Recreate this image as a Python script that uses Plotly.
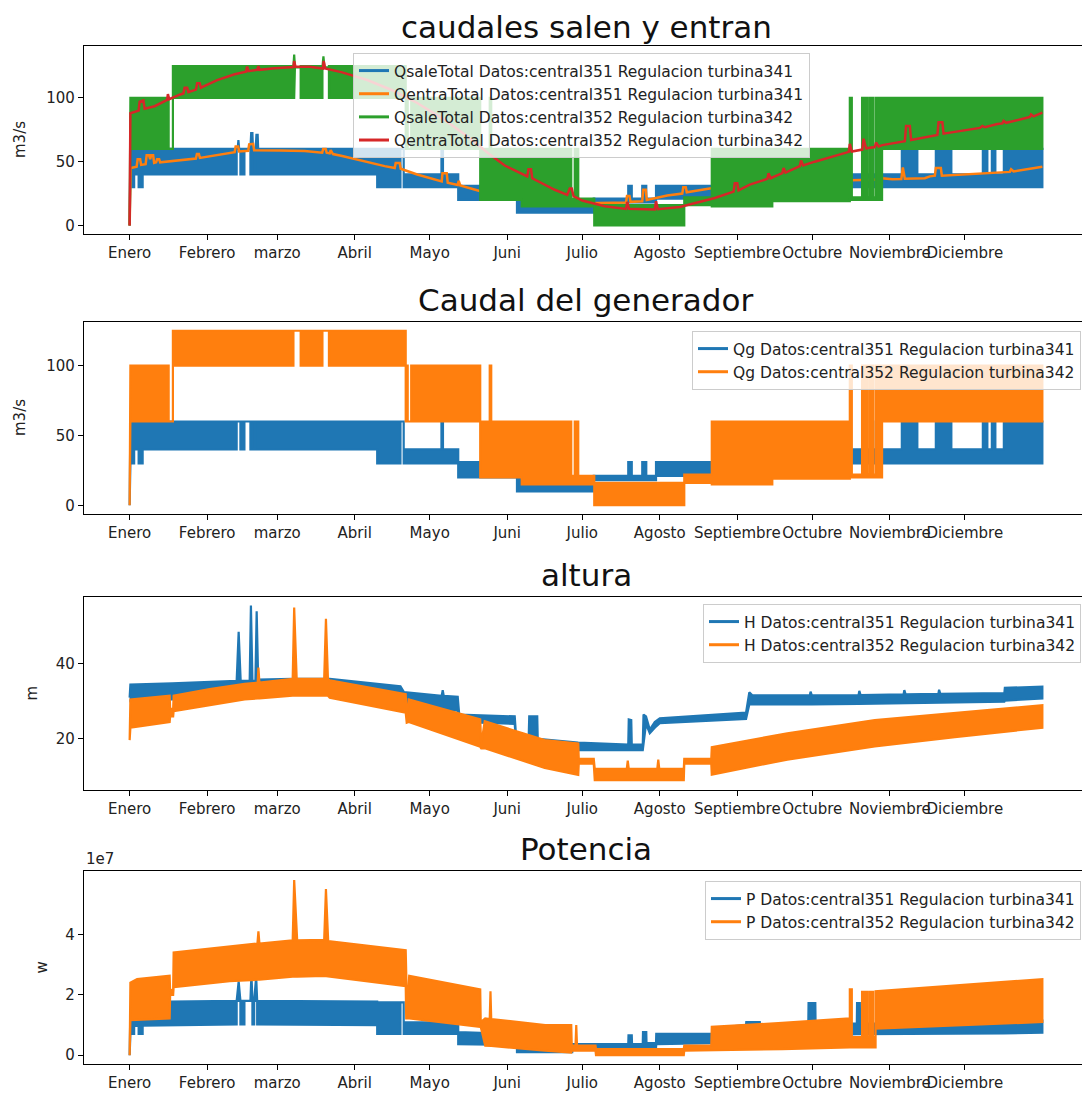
import plotly.graph_objects as go
from plotly.subplots import make_subplots

BLUE = "#1f77b4"
ORANGE = "#ff7f0e"
GREEN = "#2ca02c"
RED = "#d62728"
FONT = "DejaVu Sans"

# -----------------------------
# Axis ticks (day of year)
# -----------------------------
months = ["Enero", "Febrero", "marzo", "Abril", "Mayo", "Juni", "Julio",
          "Agosto", "Septiembre", "Octubre", "Noviembre", "Diciembre"]
month_days = [0, 31, 59, 90, 120, 151, 181, 212, 243, 273, 304, 334]

# -----------------------------
# Series
# hourly series are drawn as their band: (day, low, high)
# smooth series as (day, value)
# -----------------------------
qsale351 = [
    (0, 0, 0), (0.3, 30, 60), (1.8, 30, 60), (1.8, 40, 60), (3.6, 40, 60), (3.6, 30, 60),
    (5.2, 30, 60), (5.2, 40, 60),
    (42.8, 40, 60), (42.8, 60, 60), (43.2, 60, 60), (43.5, 60, 67), (43.8, 60, 60),
    (44.3, 60, 60), (44.3, 40, 60),
    (45.9, 40, 60), (45.9, 60, 60), (48.3, 60, 60), (48.3, 40, 60),
    (48.6, 40, 72.5), (49.1, 40, 72.5), (49.3, 40, 60),
    (49.8, 40, 60), (49.8, 60, 60), (50.4, 60, 60), (50.4, 40, 60),
    (50.7, 40, 71), (51.2, 40, 71), (51.4, 40, 60),
    (99.0, 40, 60), (99.0, 30, 60),
    (108.3, 30, 60), (108.3, 60, 60), (109.6, 60, 60), (109.6, 30, 40),
    (124.7, 30, 40), (124.7, 30, 61), (125.3, 30, 61), (125.3, 30, 40),
    (131.4, 30, 40), (131.4, 20, 31),
    (154.9, 20, 31), (154.9, 10, 19), (163.0, 10, 19), (163.0, 10, 14),
    (185.6, 10, 14), (185.6, 18, 21),
    (199.4, 18, 21), (199.4, 18, 31), (200.8, 18, 31), (200.8, 18, 21),
    (205.0, 18, 21), (205.0, 18, 31), (206.6, 18, 31), (206.6, 18, 21),
    (210.5, 18, 21), (210.5, 21, 31),
    (233.0, 21, 31), (233.0, 25, 35), (288.0, 28, 38), (288.0, 30, 40),
    (298.4, 30, 40), (298.4, 30, 60), (300.8, 30, 60), (300.8, 30, 40),
    (308.8, 30, 40), (308.8, 30, 60), (315.0, 30, 60), (315.0, 30, 40),
    (322.4, 30, 40), (322.4, 30, 60), (328.6, 30, 60), (328.6, 30, 40),
    (341.2, 30, 40), (341.2, 30, 60), (343.0, 30, 60), (343.0, 30, 40),
    (344.8, 30, 40), (344.8, 30, 60), (346.2, 30, 60), (346.2, 30, 40),
    (349.6, 30, 40), (349.6, 30, 60), (365.0, 30, 60),
]

qentra351 = [
    (0, 0), (0.4, 45), (2.8, 46), (3.2, 52), (4.2, 52), (4.6, 47.5), (6.4, 48), (6.8, 55),
    (7.8, 55), (8.2, 52), (8.6, 55), (9.4, 55), (9.8, 49), (10.6, 49.5), (11.0, 52),
    (11.8, 52), (12.2, 49.5), (20, 51), (26.5, 52.5), (26.9, 56), (27.7, 56), (28.1, 53),
    (35, 55.5), (42, 57.5), (42.4, 62), (43.4, 62), (43.8, 58), (47.4, 58.5), (47.8, 63.5),
    (49.4, 64), (49.8, 59), (55, 59), (60, 58.8), (70, 58.3), (77, 57), (77.4, 60),
    (78.4, 60), (78.8, 57), (80, 56.5), (80.4, 59), (81.3, 56), (85, 54.5), (90, 52),
    (95, 50), (99, 48), (102, 46.5), (106, 45), (106.4, 49), (108, 49), (108.4, 44.5),
    (115, 40), (122, 36), (124.8, 34.5), (125.1, 41), (126.8, 41), (127.2, 33.5),
    (131.2, 31.8), (131.6, 35), (132.2, 31.4), (140, 27), (150, 23), (160, 20), (170, 18),
    (182, 17.5), (198.5, 18), (198.9, 23), (199.9, 23), (200.3, 18.5), (205, 19),
    (205.4, 28), (206.4, 28), (206.8, 20), (211, 21.5), (215, 23.5), (221, 25),
    (221.4, 30), (222.4, 30), (222.8, 26), (232, 29), (260, 33), (288, 35.5), (298, 35.8),
    (299, 38), (300, 44), (301, 37), (305, 36.2), (308.6, 36.4), (309.2, 45.5),
    (310, 36.6), (318, 37), (320, 38.5), (322, 39), (322.4, 45), (324.4, 45), (324.8, 39),
    (335, 40), (345, 41), (352, 42), (352.5, 44), (353.5, 42.3), (365, 46),
]

qsale352 = [
    (0, 0, 0), (0.3, 60, 100), (15.6, 60, 100), (15.6, 60, 60), (17.3, 60, 60),
    (17.3, 100, 125),
    (65.5, 100, 125), (65.8, 100, 134), (66.1, 124, 124), (68.4, 124, 124), (68.4, 100, 125),
    (77.1, 100, 125), (77.1, 124, 124), (77.5, 124, 132.5), (77.9, 124, 124),
    (79.7, 124, 124), (79.7, 100, 125),
    (110.4, 100, 125), (110.4, 60, 100), (111.2, 60, 100), (111.2, 60, 60),
    (112.6, 60, 60), (112.6, 60, 100),
    (140.2, 60, 100), (140.2, 20, 60), (144.0, 20, 60), (144.0, 20, 100),
    (144.6, 20, 100), (144.6, 20, 60),
    (156.8, 20, 60), (156.8, 15, 60), (176.6, 15, 60), (176.6, 15, 21),
    (178.0, 15, 21), (178.0, 15, 60), (179.4, 15, 60), (179.4, 15, 21),
    (185.8, 15, 21), (185.8, 0, 16), (221.8, 0, 16), (221.8, 16, 22),
    (232.8, 16, 22), (232.8, 15, 60), (257.0, 15, 60), (257.0, 19, 60),
    (288.0, 19, 60), (288.0, 20, 100), (288.8, 20, 100), (288.8, 20, 22),
    (292.9, 20, 22), (292.9, 20, 100), (294.9, 20, 100), (294.9, 20, 22),
    (295.8, 20, 22), (295.8, 20, 100), (297.3, 20, 100), (297.3, 20, 22),
    (298.3, 20, 22), (298.3, 20, 100), (300.9, 20, 100), (300.9, 60, 100),
    (365.0, 60, 100),
]

qentra352 = [
    (0, 0), (0.3, 88), (3.6, 90), (4.0, 97), (5.5, 98), (6.0, 91.5), (10, 93.5), (15, 98.5),
    (15.3, 103), (15.8, 99), (20, 102.5), (21.5, 103.5), (22, 108), (23, 108),
    (23.5, 104.5), (26.5, 106.5), (27, 111.5), (28, 111.5), (28.5, 108), (35, 114),
    (42, 118.5), (46.5, 120.5), (47, 124.5), (47.5, 121), (51, 122), (51.5, 125),
    (52, 122), (58, 123.3), (65.5, 124.2), (65.8, 129), (66.3, 124.4), (72, 124.5),
    (77.3, 123), (77.6, 129), (78.2, 123), (85, 120), (95, 114), (105, 106), (115, 96),
    (125, 84), (135, 70), (143.8, 56), (150, 47), (155, 42), (159, 38.5), (159.5, 44),
    (160.5, 44), (161, 37), (170, 28), (175, 24), (176, 29), (176.8, 29), (177.5, 23),
    (181, 19.5), (190, 15), (198.5, 13), (199, 18.5), (199.7, 13), (205, 12.5),
    (210, 12.6), (210.5, 19), (211.2, 12.8), (220, 14.5), (234, 21.5), (241.5, 26.5),
    (242, 33), (243, 33), (243.5, 27.5), (248, 32), (255, 36.5), (255.5, 41),
    (256.3, 37), (261, 41), (261.5, 45), (262.3, 41.5), (268, 46.5), (268.5, 51),
    (269.3, 47), (274, 50), (281, 54), (287.6, 57.7), (288, 64), (288.8, 58), (293, 59.5),
    (293.5, 68), (294.5, 60.5), (298, 61.5), (298.5, 65), (299.5, 62), (301, 63),
    (307.6, 65.4), (310, 66), (310.5, 78), (312, 78), (312.5, 67), (321, 70.5), (323, 71),
    (323.5, 81), (325, 81), (325.5, 72), (334, 74.5), (340, 76.5), (341, 78), (342, 77),
    (347, 79.5), (349, 80), (349.5, 82), (350.5, 80.5), (358, 84), (360, 85), (360.5, 87),
    (361.5, 85.5), (365, 88.5),
]

qg351 = [
    (0, 0, 0), (0.3, 30, 60), (1.8, 30, 60), (1.8, 40, 60), (3.6, 40, 60), (3.6, 30, 60),
    (5.2, 30, 60), (5.2, 40, 60),
    (42.8, 40, 60), (42.8, 60, 60), (44.3, 60, 60), (44.3, 40, 60),
    (45.9, 40, 60), (45.9, 60, 60), (48.3, 60, 60), (48.3, 40, 60),
    (49.8, 40, 60), (49.8, 60, 60), (50.4, 60, 60), (50.4, 40, 60),
    (99.0, 40, 60), (99.0, 30, 60),
    (108.3, 30, 60), (108.3, 60, 60), (109.6, 60, 60), (109.6, 30, 40),
    (124.7, 30, 40), (124.7, 30, 60), (125.3, 30, 60), (125.3, 30, 40),
    (131.4, 30, 40), (131.4, 20, 31),
    (154.9, 20, 31), (154.9, 10, 19), (163.0, 10, 19), (163.0, 10, 14),
    (185.6, 10, 14), (185.6, 18, 21),
    (199.4, 18, 21), (199.4, 18, 31), (200.8, 18, 31), (200.8, 18, 21),
    (205.0, 18, 21), (205.0, 18, 31), (206.6, 18, 31), (206.6, 18, 21),
    (210.5, 18, 21), (210.5, 21, 31),
    (233.0, 21, 31), (233.0, 25, 35), (288.0, 28, 38), (288.0, 30, 40),
    (298.4, 30, 40), (298.4, 30, 60), (300.8, 30, 60), (300.8, 30, 40),
    (308.8, 30, 40), (308.8, 30, 60), (315.0, 30, 60), (315.0, 30, 40),
    (322.4, 30, 40), (322.4, 30, 60), (328.6, 30, 60), (328.6, 30, 40),
    (341.2, 30, 40), (341.2, 30, 60), (343.0, 30, 60), (343.0, 30, 40),
    (344.8, 30, 40), (344.8, 30, 60), (346.2, 30, 60), (346.2, 30, 40),
    (349.6, 30, 40), (349.6, 30, 60), (365.0, 30, 60),
]

qg352 = [
    (0, 0, 0), (0.3, 60, 100), (15.6, 60, 100), (15.6, 60, 60), (17.3, 60, 60),
    (17.3, 100, 125),
    (65.5, 100, 125), (65.5, 125, 125), (68.4, 125, 125), (68.4, 100, 125),
    (77.1, 100, 125), (77.1, 125, 125), (79.7, 125, 125), (79.7, 100, 125),
    (110.4, 100, 125), (110.4, 60, 100), (111.2, 60, 100), (111.2, 60, 60),
    (112.6, 60, 60), (112.6, 60, 100),
    (140.2, 60, 100), (140.2, 20, 60), (144.0, 20, 60), (144.0, 20, 100),
    (144.6, 20, 100), (144.6, 20, 60),
    (156.8, 20, 60), (156.8, 15, 60), (176.6, 15, 60), (176.6, 15, 21),
    (178.0, 15, 21), (178.0, 15, 60), (179.4, 15, 60), (179.4, 15, 21),
    (185.8, 15, 21), (185.8, 0, 16), (221.8, 0, 16), (221.8, 16, 22),
    (232.8, 16, 22), (232.8, 15, 60), (257.0, 15, 60), (257.0, 19, 60),
    (288.0, 19, 60), (288.0, 20, 100), (288.8, 20, 100), (288.8, 20, 22),
    (292.9, 20, 22), (292.9, 20, 100), (294.9, 20, 100), (294.9, 20, 22),
    (295.8, 20, 22), (295.8, 20, 100), (297.3, 20, 100), (297.3, 20, 22),
    (298.3, 20, 22), (298.3, 20, 100), (300.9, 20, 100), (300.9, 60, 100),
    (365.0, 60, 100),
]

h351 = [
    (0, 30, 31), (0.3, 30, 34.5), (17.0, 30.5, 34.8),
    (42.8, 32, 35.5), (43.6, 32, 48.5), (44.4, 32, 35.5),
    (48.0, 32, 35.5), (48.5, 32, 55.5), (49.1, 32, 35.5),
    (50.3, 32, 35.5), (50.8, 32, 54), (51.4, 32, 35.8),
    (65.0, 32.5, 36), (80.0, 32.5, 36),
    (108.3, 31, 34), (109.7, 29, 32.5),
    (124.8, 28, 31.5), (125.2, 28, 33), (125.6, 28, 31.5),
    (131.2, 27.5, 31.2), (131.8, 24.5, 26.5),
    (154.0, 24, 26), (154.5, 19, 21),
    (159.6, 19, 21), (159.8, 19, 26), (163.0, 19, 26), (163.2, 18, 20),
    (179.4, 17, 19),
    (199.4, 17, 18.5), (199.6, 17, 25.2), (200.6, 17, 25), (200.8, 17, 18.5),
    (205.2, 17, 18.5), (205.5, 17, 26.5), (206.5, 24, 26),
    (208.0, 21.5, 22.5), (210.0, 23, 24.5), (212.0, 24.2, 25.5),
    (246.5, 25.3, 27), (247.8, 29.2, 32.4), (249.0, 29.2, 31.6),
    (272.0, 29.2, 31.6), (272.3, 29.2, 32.6), (272.8, 29.2, 31.6),
    (291.5, 29.3, 31.7), (291.8, 29.3, 32.8), (292.3, 29.3, 31.7),
    (309.5, 29.5, 31.9), (309.8, 29.5, 33.0), (310.3, 29.5, 31.9),
    (323.4, 29.6, 32.0), (323.7, 29.6, 33.1), (324.2, 29.6, 32.0),
    (349.8, 29.9, 32.2), (350.0, 30.2, 33.6), (365.0, 30.8, 33.9),
]

h352 = [
    (0, 19.7, 19.7), (0.3, 23, 30.5),
    (16.0, 24.5, 31.5), (16.2, 26, 28), (17.4, 26, 28), (17.6, 27.4, 31.5),
    (32.0, 28.9, 33.3), (46.0, 30.5, 34.7),
    (51.2, 30.8, 35), (51.5, 30.8, 39), (51.9, 30.8, 35),
    (65.2, 31.5, 36), (65.8, 31.5, 55), (66.8, 31.5, 36),
    (77.8, 31.5, 36), (78.5, 31.5, 52), (79.3, 31.5, 36),
    (80.0, 31, 35.6), (110.4, 27, 31.9), (110.8, 24.3, 25), (111.6, 24.5, 30.5),
    (140.2, 17.9, 25.2), (140.6, 17.5, 18.5), (142.0, 17.5, 24.7),
    (166.0, 12.3, 19.7), (179.4, 10.4, 18.8), (179.6, 13.4, 14.7),
    (185.6, 13.4, 14.7), (186.0, 9, 12),
    (198.8, 9, 12), (199.2, 9, 14.2), (199.6, 9, 12),
    (211.0, 9, 12), (211.4, 9, 14.5), (211.8, 9, 12),
    (221.6, 9, 12), (221.8, 13.4, 14.7), (232.6, 13.4, 14.7), (232.8, 10.5, 17.8),
    (263.0, 14.5, 21.5), (298.0, 18, 25), (330.0, 20.5, 27), (365.0, 23, 29),
]

p351 = [
    (0, 0, 0), (0.3, 0.71e7, 1.5e7), (1.8, 0.71e7, 1.5e7), (1.8, 0.97e7, 1.5e7),
    (3.6, 0.97e7, 1.5e7), (3.6, 0.71e7, 1.5e7), (5.2, 0.71e7, 1.5e7), (5.2, 0.98e7, 1.5e7),
    (16.2, 1.0e7, 1.5e7), (16.4, 1.0e7, 1.78e7),
    (42.8, 1.02e7, 1.8e7), (42.8, 1.8e7, 1.8e7), (43.6, 1.8e7, 2.45e7),
    (44.3, 1.8e7, 1.8e7), (44.3, 1.02e7, 1.8e7),
    (45.9, 1.02e7, 1.8e7), (45.9, 1.8e7, 1.8e7), (48.3, 1.8e7, 1.8e7),
    (48.7, 1.8e7, 2.7e7), (49.1, 1.8e7, 1.8e7), (49.1, 1.02e7, 1.8e7),
    (49.8, 1.02e7, 1.8e7), (49.8, 1.8e7, 1.8e7), (50.6, 1.8e7, 2.6e7),
    (51.0, 1.8e7, 1.8e7), (51.0, 1.02e7, 1.8e7),
    (99.0, 1.0e7, 1.78e7), (99.0, 0.71e7, 1.75e7),
    (108.3, 0.71e7, 1.75e7), (108.3, 1.75e7, 1.75e7), (109.6, 1.75e7, 1.75e7),
    (109.6, 0.71e7, 1.1e7),
    (131.4, 0.71e7, 1.08e7), (131.4, 0.37e7, 0.77e7),
    (154.9, 0.34e7, 0.7e7), (154.9, 0.1e7, 0.3e7),
    (177.0, 0.1e7, 0.28e7), (177.2, 0.26e7, 0.37e7),
    (199.4, 0.26e7, 0.37e7), (199.5, 0.26e7, 0.66e7), (200.8, 0.26e7, 0.66e7),
    (200.9, 0.26e7, 0.37e7),
    (205.2, 0.26e7, 0.37e7), (205.3, 0.26e7, 0.77e7), (206.6, 0.26e7, 0.77e7),
    (206.7, 0.26e7, 0.4e7),
    (210.5, 0.26e7, 0.4e7), (210.6, 0.37e7, 0.71e7),
    (233.0, 0.4e7, 0.72e7), (233.2, 0.5e7, 0.9e7),
    (246.5, 0.6e7, 1.0e7), (246.6, 0.6e7, 1.1e7), (252.0, 0.6e7, 1.1e7),
    (252.1, 0.6e7, 1.0e7),
    (271.4, 0.65e7, 1.02e7), (271.5, 0.65e7, 1.73e7), (274.2, 0.65e7, 1.73e7),
    (274.3, 0.65e7, 1.05e7),
    (290.8, 0.7e7, 1.05e7), (290.9, 0.7e7, 1.73e7), (292.0, 0.7e7, 1.73e7),
    (292.1, 0.7e7, 1.05e7),
    (349.6, 0.72e7, 1.05e7), (349.7, 0.72e7, 1.12e7), (365.0, 0.75e7, 1.15e7),
]

p352 = [
    (0, 0, 0), (0.3, 1.16e7, 2.4e7), (3.0, 1.16e7, 2.52e7),
    (16.0, 1.22e7, 2.63e7), (16.2, 2.0e7, 2.1e7), (17.4, 2.0e7, 2.2e7),
    (17.6, 2.25e7, 3.4e7), (40.0, 2.45e7, 3.6e7),
    (51.1, 2.5e7, 3.7e7), (51.5, 2.5e7, 4.1e7), (51.9, 2.5e7, 3.7e7),
    (65.2, 2.6e7, 3.8e7), (65.8, 2.6e7, 5.8e7), (67.0, 2.6e7, 3.8e7),
    (77.8, 2.63e7, 3.82e7), (78.5, 2.63e7, 5.5e7), (79.4, 2.6e7, 3.78e7),
    (110.4, 2.29e7, 3.48e7), (110.6, 1.22e7, 2.7e7), (111.0, 1.22e7, 1.3e7),
    (111.8, 1.22e7, 2.63e7),
    (140.2, 0.94e7, 2.18e7), (140.4, 0.94e7, 1.1e7), (142.2, 0.32e7, 1.22e7),
    (144.0, 0.31e7, 1.2e7), (144.3, 0.31e7, 2.12e7), (144.6, 0.31e7, 1.2e7),
    (166.2, 0.15e7, 1.0e7), (176.6, 0.09e7, 1.0e7), (176.8, 0.15e7, 0.32e7),
    (178.3, 0.15e7, 0.32e7), (178.6, 0.15e7, 1.0e7), (178.9, 0.15e7, 0.32e7),
    (186.3, 0.15e7, 0.32e7), (186.5, 0.0, 0.2e7),
    (221.6, 0.0, 0.2e7), (221.8, 0.15e7, 0.32e7),
    (232.6, 0.15e7, 0.32e7), (232.8, 0.15e7, 0.94e7),
    (261.0, 0.2e7, 1.07e7), (288.0, 0.26e7, 1.22e7), (288.0, 0.26e7, 2.18e7),
    (288.8, 0.26e7, 2.18e7), (288.8, 0.26e7, 0.6e7),
    (292.9, 0.26e7, 0.6e7), (292.9, 0.26e7, 2.1e7),
    (294.9, 0.26e7, 2.1e7), (294.9, 0.26e7, 0.6e7),
    (295.8, 0.26e7, 0.6e7), (295.8, 0.26e7, 2.1e7),
    (297.3, 0.26e7, 2.1e7), (297.3, 0.26e7, 0.6e7),
    (298.3, 0.26e7, 0.6e7), (298.3, 0.88e7, 2.12e7),
    (365.0, 1.1e7, 2.52e7),
]

tail351 = " Datos:central351 Regulacion turbina341"
tail352 = " Datos:central352 Regulacion turbina342"


def band(pts, color):
    d = [p[0] for p in pts]
    lo = [p[1] for p in pts]
    hi = [p[2] for p in pts]
    return go.Scatter(x=d + d[::-1], y=hi + lo[::-1], mode="lines", fill="toself",
                      fillcolor=color, line=dict(color=color, width=2.2),
                      hoverinfo="skip", showlegend=False)


def curve(pts, color):
    return go.Scatter(x=[p[0] for p in pts], y=[p[1] for p in pts], mode="lines",
                      line=dict(color=color, width=2.5), showlegend=False)


def key(name, color, legend):
    return go.Scatter(x=[None], y=[None], mode="lines", line=dict(color=color, width=3),
                      name=name, legend=legend)


fig = make_subplots(rows=4, cols=1)

# caudales salen y entran
fig.add_trace(band(qsale351, BLUE), row=1, col=1)
fig.add_trace(curve(qentra351, ORANGE), row=1, col=1)
fig.add_trace(band(qsale352, GREEN), row=1, col=1)
fig.add_trace(curve(qentra352, RED), row=1, col=1)
fig.add_trace(key("QsaleTotal" + tail351, BLUE, "legend"), row=1, col=1)
fig.add_trace(key("QentraTotal" + tail351, ORANGE, "legend"), row=1, col=1)
fig.add_trace(key("QsaleTotal" + tail352, GREEN, "legend"), row=1, col=1)
fig.add_trace(key("QentraTotal" + tail352, RED, "legend"), row=1, col=1)

# Caudal del generador
fig.add_trace(band(qg351, BLUE), row=2, col=1)
fig.add_trace(band(qg352, ORANGE), row=2, col=1)
fig.add_trace(key("Qg" + tail351, BLUE, "legend2"), row=2, col=1)
fig.add_trace(key("Qg" + tail352, ORANGE, "legend2"), row=2, col=1)

# altura
fig.add_trace(band(h351, BLUE), row=3, col=1)
fig.add_trace(band(h352, ORANGE), row=3, col=1)
fig.add_trace(key("H" + tail351, BLUE, "legend3"), row=3, col=1)
fig.add_trace(key("H" + tail352, ORANGE, "legend3"), row=3, col=1)

# Potencia
fig.add_trace(band(p351, BLUE), row=4, col=1)
fig.add_trace(band(p352, ORANGE), row=4, col=1)
fig.add_trace(key("P" + tail351, BLUE, "legend4"), row=4, col=1)
fig.add_trace(key("P" + tail352, ORANGE, "legend4"), row=4, col=1)

# -----------------------------
# Page geometry (page body has an 8px margin)
# -----------------------------
OFF = 8
W, H = 1090 - OFF, 1093 - OFF
left_px, right_px, top_px, bottom_px = 84, 1088, 46, 1064
m_l, m_r = left_px - OFF, 1090 - right_px
m_t, m_b = top_px - OFF, 1093 - bottom_px
plot_w = W - m_l - m_r
plot_h = H - m_t - m_b


def paper_x(px):
    return (px - OFF - m_l) / plot_w


def paper_y(py):
    return (H - m_b - (py - OFF)) / plot_h


boxes = [(46, 234), (322, 514), (597, 790), (871, 1064)]
domains = [[max(0, paper_y(b)), min(1, paper_y(t))] for t, b in boxes]

# -----------------------------
# Axes
# -----------------------------
axis_common = dict(showline=True, mirror=True, linecolor="black", linewidth=1.2,
                   ticks="outside", ticklen=5, tickwidth=1.2, tickcolor="black",
                   showgrid=False, zeroline=False, automargin=False,
                   tickfont=dict(family=FONT, size=15, color="#222"))

fig.update_xaxes(range=[-18.25, 383.25], tickvals=month_days, ticktext=months,
                 tickangle=0, **axis_common)
fig.update_yaxes(**axis_common)

fig.update_layout(
    yaxis=dict(domain=domains[0], range=[-6.7, 140.7], tickvals=[0, 50, 100]),
    yaxis2=dict(domain=domains[1], range=[-6.25, 131.25], tickvals=[0, 50, 100]),
    yaxis3=dict(domain=domains[2], range=[6.4, 57.8], tickvals=[20, 40]),
    yaxis4=dict(domain=domains[3], range=[-0.29e7, 6.1e7], tickvals=[0, 2e7, 4e7],
                ticktext=["0", "2", "4"]),
)

# -----------------------------
# Legends
# -----------------------------
leg_style = dict(bgcolor="rgba(255,255,255,0.8)", bordercolor="#cccccc", borderwidth=1,
                 font=dict(family=FONT, size=15.5, color="#222"))

fig.update_layout(
    legend=dict(x=paper_x(353), y=paper_y(53), xanchor="left", yanchor="top",
                **leg_style),
    legend2=dict(x=paper_x(1081), y=paper_y(331), xanchor="right", yanchor="top",
                 **leg_style),
    legend3=dict(x=paper_x(1081), y=paper_y(604), xanchor="right", yanchor="top",
                 **leg_style),
    legend4=dict(x=paper_x(1081), y=paper_y(881), xanchor="right", yanchor="top",
                 **leg_style),
)

# -----------------------------
# Titles and labels
# -----------------------------
titles = ["caudales salen y entran", "Caudal del generador", "altura", "Potencia"]
ylabels = ["m3/s", "m3/s", "m", "w"]
ylabel_px = [20, 20, 31, 41]

annotations = []
for i in range(4):
    if i == 0:
        # first title: hang it from the top edge of the page so it stays inside
        pos = dict(y=paper_y(OFF), yanchor="top", borderpad=0)
    else:
        pos = dict(y=domains[i][1], yanchor="bottom", yshift=2)
    annotations.append(dict(text=titles[i], xref="paper", yref="paper", x=0.5,
                            xanchor="center", showarrow=False,
                            font=dict(family=FONT, size=31, color="#111"), **pos))
    annotations.append(dict(text=ylabels[i], xref="paper", yref="paper",
                            x=paper_x(ylabel_px[i]),
                            y=(domains[i][0] + domains[i][1]) / 2, textangle=-90,
                            xanchor="center", yanchor="middle", showarrow=False,
                            font=dict(family=FONT, size=15, color="#222")))
annotations.append(dict(text="1e7", xref="paper", yref="paper", x=0, y=domains[3][1],
                        xanchor="left", yanchor="bottom", showarrow=False, yshift=1,
                        font=dict(family=FONT, size=15, color="#222")))

fig.update_layout(
    width=W,
    height=H,
    margin=dict(l=m_l, r=m_r, t=m_t, b=m_b),
    plot_bgcolor="white",
    paper_bgcolor="white",
    font=dict(family=FONT),
    annotations=annotations,
)

fig.write_html("out.html")
